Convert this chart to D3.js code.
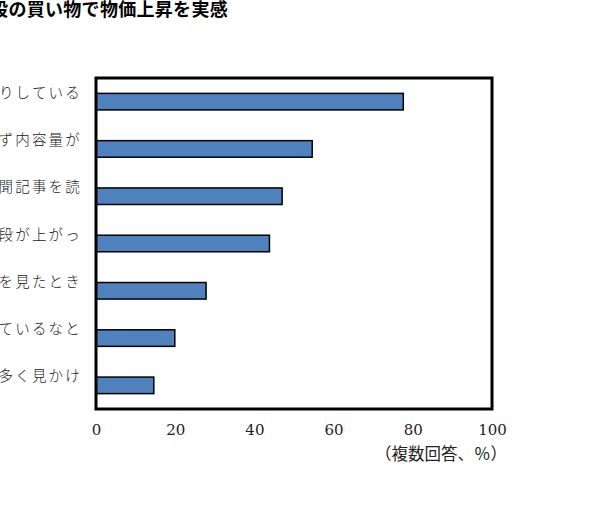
<!DOCTYPE html>
<html>
<head>
<meta charset="utf-8">
<script src="https://cdn.jsdelivr.net/npm/d3@7"></script>
<style>
  body { margin: 0; background: #fff; }
  svg { display: block; }
</style>
</head>
<body>
<div id="chart"></div>
<script>
// visible tails of the category labels (left part is cut off in the source)
const categories = ["りしている", "ず内容量が", "聞記事を読", "段が上がっ", "を見たとき", "ているなと", "多く見かけ"];
const values = [77.6, 54.6, 47.0, 43.8, 27.8, 19.9, 14.6];
const ticks = [0, 20, 40, 60, 80, 100];

const width = 590, height = 523;
const margin = {top: 78, left: 96, right: 98, bottom: 114};

const svg = d3.select("#chart").append("svg")
    .attr("width", width)
    .attr("height", height);

const x = d3.scaleLinear()
    .domain([0, 100])
    .range([margin.left, width - margin.right]);

const y = d3.scaleBand()
    .domain(categories)
    .range([margin.top, height - margin.bottom])
    .paddingInner(0.65)
    .paddingOuter(0.325);

svg.append("text")
    .attr("x", 228)
    .attr("y", 16)
    .attr("text-anchor", "end")
    .style("font-family", "'Noto Sans CJK JP', sans-serif")
    .style("font-weight", "bold")
    .style("font-size", "18px")
    .style("letter-spacing", "0.3px")
    .text("普段の買い物で物価上昇を実感");

svg.selectAll("rect.bar")
    .data(values)
    .enter()
    .append("rect")
        .attr("class", "bar")
        .attr("x", x(0))
        .attr("y", function(d, i){ return y(categories[i]) })
        .attr("width", function(d){ return x(d) - x(0) })
        .attr("height", y.bandwidth())
        .style("fill", "#4f81bd")
        .attr("stroke", "#000")
        .attr("stroke-width", 1.5);

svg.selectAll("text.cat")
    .data(categories)
    .enter()
    .append("text")
        .attr("class", "cat")
        .attr("x", 82)
        .attr("y", function(d){ return y(d) + y.bandwidth() / 2 - 9 })
        .attr("dy", "0.35em")
        .attr("text-anchor", "end")
        .style("font-family", "'Noto Sans CJK JP', serif")
        .style("font-size", "14.5px")
        .style("font-weight", 300)
        .style("letter-spacing", "2.2px")
        .style("fill", "#222")
        .text(function(d){ return d });

// frame
svg.append("rect")
    .attr("x", x(0))
    .attr("y", margin.top)
    .attr("width", x(100) - x(0))
    .attr("height", height - margin.bottom - margin.top)
    .attr("fill", "none")
    .attr("stroke", "#000")
    .attr("stroke-width", 3);

const xAxis = svg.append("g")
    .attr("transform", "translate(0," + (height - margin.bottom) + ")")
    .call(d3.axisBottom(x).tickValues(ticks).tickSize(0).tickPadding(15));

xAxis.select(".domain").remove();
xAxis.attr("font-family", null);
xAxis.selectAll("text")
    .style("font-family", "'DejaVu Serif', 'Liberation Serif', serif")
    .style("font-size", "15px")
    .style("fill", "#222");

svg.append("text")
    .attr("x", 507)
    .attr("y", 460)
    .attr("text-anchor", "end")
    .style("font-family", "'Noto Sans CJK JP', serif")
    .style("font-size", "16.5px")
    .style("fill", "#222")
    .text("（複数回答、％）");
</script>
</body>
</html>
